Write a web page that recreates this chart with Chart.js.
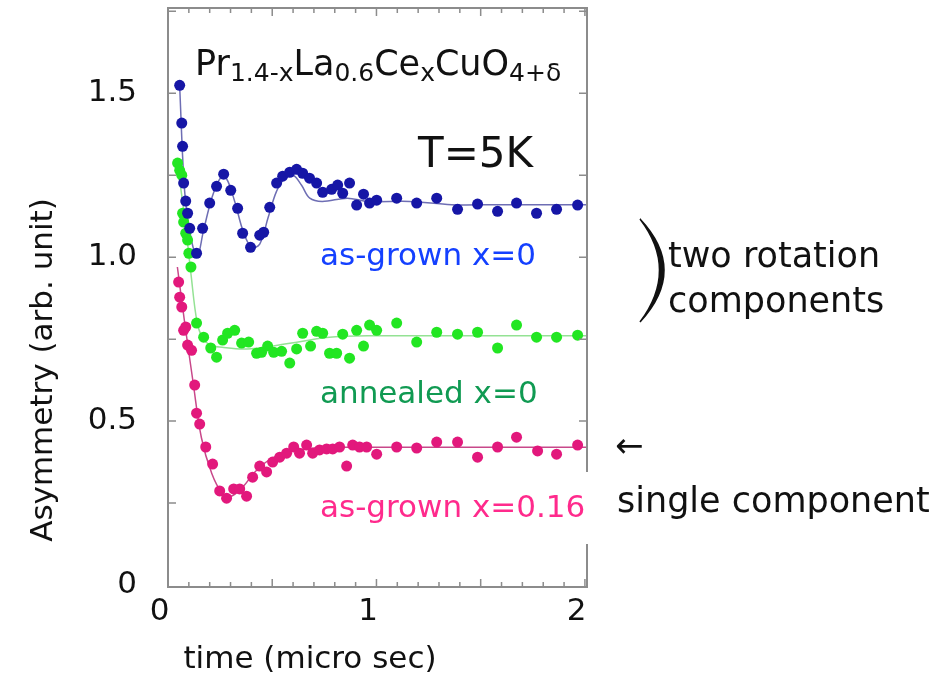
<!DOCTYPE html>
<html>
<head>
<meta charset="utf-8">
<script src="https://cdn.jsdelivr.net/npm/chart.js@4"></script>
<style>
  html, body { margin: 0; padding: 0; background: #fff; }
  #wrap { width: 952px; height: 678px; }
</style>
</head>
<body>
<div id="wrap"><canvas id="chart" width="952" height="678"></canvas></div>
<script>
// muSR asymmetry spectra

const blueTime = [0.096, 0.106, 0.11, 0.115, 0.125, 0.134, 0.144, 0.177, 0.206, 0.240, 0.273, 0.307, 0.341, 0.374, 0.398, 0.436, 0.480, 0.499, 0.528, 0.561, 0.590, 0.624, 0.657, 0.686, 0.719, 0.753, 0.782, 0.825, 0.854, 0.878, 0.911, 0.945, 0.978, 1.007, 1.041, 1.137, 1.233, 1.329, 1.429, 1.525, 1.621, 1.712, 1.808, 1.904, 2.005];
const blueAsym = [1.524, 1.409, 1.338, 1.226, 1.171, 1.134, 1.088, 1.012, 1.088, 1.165, 1.216, 1.253, 1.204, 1.149, 1.073, 1.030, 1.067, 1.076, 1.152, 1.226, 1.247, 1.259, 1.268, 1.256, 1.241, 1.226, 1.198, 1.207, 1.220, 1.195, 1.226, 1.159, 1.192, 1.165, 1.174, 1.180, 1.165, 1.180, 1.146, 1.162, 1.140, 1.165, 1.134, 1.146, 1.159];

const greenTime = [0.086, 0.096, 0.106, 0.11, 0.115, 0.125, 0.134, 0.14, 0.15, 0.177, 0.211, 0.245, 0.273, 0.302, 0.326, 0.360, 0.393, 0.427, 0.465, 0.489, 0.518, 0.547, 0.585, 0.624, 0.657, 0.686, 0.724, 0.753, 0.782, 0.815, 0.849, 0.878, 0.911, 0.945, 0.978, 1.007, 1.041, 1.137, 1.233, 1.329, 1.429, 1.525, 1.621, 1.712, 1.808, 1.904, 2.005];
const greenAsym = [1.287, 1.265, 1.250, 1.134, 1.107, 1.073, 1.052, 1.012, 0.970, 0.799, 0.756, 0.723, 0.695, 0.747, 0.768, 0.777, 0.738, 0.741, 0.707, 0.710, 0.729, 0.710, 0.713, 0.677, 0.720, 0.768, 0.729, 0.774, 0.768, 0.707, 0.707, 0.765, 0.692, 0.777, 0.729, 0.793, 0.777, 0.799, 0.741, 0.771, 0.765, 0.771, 0.723, 0.793, 0.756, 0.756, 0.762];

const pinkTime = [0.091, 0.096, 0.106, 0.115, 0.125, 0.134, 0.153, 0.168, 0.177, 0.192, 0.221, 0.254, 0.288, 0.321, 0.355, 0.384, 0.417, 0.446, 0.480, 0.513, 0.542, 0.576, 0.609, 0.643, 0.671, 0.705, 0.734, 0.767, 0.801, 0.830, 0.863, 0.897, 0.926, 0.959, 0.993, 1.041, 1.137, 1.233, 1.329, 1.429, 1.525, 1.621, 1.712, 1.813, 1.904, 2.005];
const pinkAsym = [0.924, 0.878, 0.848, 0.777, 0.787, 0.732, 0.716, 0.610, 0.524, 0.491, 0.421, 0.369, 0.287, 0.265, 0.293, 0.293, 0.271, 0.329, 0.363, 0.345, 0.375, 0.390, 0.402, 0.421, 0.402, 0.427, 0.402, 0.412, 0.415, 0.415, 0.421, 0.363, 0.427, 0.421, 0.421, 0.399, 0.421, 0.418, 0.436, 0.436, 0.390, 0.421, 0.451, 0.409, 0.399, 0.427];

// fitted curves (thin lines)
const blueFitTime = [0.096, 0.12, 0.15, 0.18, 0.21, 0.25, 0.29, 0.32, 0.36, 0.40, 0.44, 0.48, 0.52, 0.56, 0.60, 0.64, 0.68, 0.72, 0.78, 0.9, 1.0, 1.2, 1.4, 1.6, 1.8, 2.05];
const blueFitAsym = [1.52, 1.20, 1.06, 1.00, 1.08, 1.18, 1.24, 1.24, 1.17, 1.08, 1.03, 1.04, 1.12, 1.20, 1.24, 1.25, 1.22, 1.18, 1.17, 1.18, 1.17, 1.17, 1.16, 1.16, 1.16, 1.16];
const greenFitTime = [0.086, 0.12, 0.15, 0.18, 0.21, 0.25, 0.30, 0.40, 0.50, 0.60, 0.70, 0.80, 1.0, 1.5, 2.05];
const greenFitAsym = [1.28, 1.12, 0.95, 0.80, 0.75, 0.73, 0.725, 0.72, 0.725, 0.735, 0.745, 0.755, 0.76, 0.76, 0.76];
const pinkFitTime = [0.085, 0.12, 0.16, 0.20, 0.25, 0.30, 0.34, 0.40, 0.45, 0.50, 0.55, 0.60, 0.70, 0.80, 1.0, 1.5, 2.05];
const pinkFitAsym = [0.97, 0.80, 0.62, 0.45, 0.34, 0.28, 0.27, 0.30, 0.34, 0.37, 0.39, 0.405, 0.415, 0.42, 0.42, 0.42, 0.42];

const xTickValues = [0, 1, 2];
const xTickLabels = ['0', '1', '2'];
const yTickValues = [0, 0.5, 1.0, 1.5];
const yTickLabels = ['0', '0.5', '1.0', '1.5'];

const FONT = "'DejaVu Sans', Verdana, sans-serif";

const toPoints = (xs, ys) => xs.map((x, i) => ({ x, y: ys[i] }));

function scatterSet(xs, ys, color) {
  return {
    type: 'scatter',
    data: toPoints(xs, ys),
    backgroundColor: color,
    borderColor: color,
    pointRadius: 5.5,
    borderWidth: 0,
    order: 1,
  };
}

function fitSet(xs, ys, color) {
  return {
    type: 'line',
    data: toPoints(xs, ys),
    borderColor: color,
    borderWidth: 1.5,
    pointRadius: 0,
    tension: 0.35,
    fill: false,
    order: 2,
  };
}

// frame with inward ticks, text annotations
const decorations = {
  id: 'decorations',
  afterDraw(chart) {
    const { ctx, chartArea: a, scales } = chart;
    const xs = scales.x, ys = scales.y;
    ctx.save();

    // frame
    ctx.strokeStyle = '#8c8c8c';
    ctx.lineWidth = 2;
    ctx.strokeRect(a.left, a.top, a.right - a.left, a.bottom - a.top);
    ctx.lineWidth = 1.5;
    ctx.beginPath();
    for (let k = 1; xs.min + k * 0.1 < xs.max; k++) {
      const px = xs.getPixelForValue(xs.min + k * 0.1);
      const len = k % 5 === 0 ? 8 : 5;
      ctx.moveTo(px, a.bottom); ctx.lineTo(px, a.bottom - len);
      ctx.moveTo(px, a.top); ctx.lineTo(px, a.top + len);
    }
    for (let v = 0.25; v < ys.max; v += 0.25) {
      const py = ys.getPixelForValue(v);
      ctx.moveTo(a.left, py); ctx.lineTo(a.left + 8, py);
      ctx.moveTo(a.right, py); ctx.lineTo(a.right - 8, py);
    }
    ctx.stroke();

    // white box behind the x=0.16 label
    ctx.fillStyle = '#fff';
    ctx.fillRect(310, 472, 282, 72);

    ctx.textAlign = 'left';
    ctx.textBaseline = 'alphabetic';

    // compound formula
    const parts = [
      ['Pr', false], ['1.4-x', true], ['La', false], ['0.6', true],
      ['Ce', false], ['x', true], ['CuO', false], ['4+\u03b4', true],
    ];
    let cx = 195;
    ctx.fillStyle = '#111';
    for (const [txt, sub] of parts) {
      ctx.font = (sub ? '25px ' : '35px ') + FONT;
      ctx.fillText(txt, cx, sub ? 81 : 75);
      cx += ctx.measureText(txt).width;
    }

    ctx.font = '42px ' + FONT;
    ctx.fillText('T=5K', 418, 167);

    ctx.font = '31px ' + FONT;
    ctx.fillStyle = '#1440ff';
    ctx.fillText('as-grown x=0', 320, 265);
    ctx.fillStyle = '#109a52';
    ctx.fillText('annealed x=0', 320, 403);
    ctx.fillStyle = '#ff2a8c';
    ctx.fillText('as-grown x=0.16', 320, 517);

    // right-hand notes
    ctx.fillStyle = '#111';
    ctx.font = '35px ' + FONT;
    ctx.fillText('two rotation', 668, 267);
    ctx.fillText('components', 668, 312);
    ctx.fillText('single component', 617, 512);
    ctx.font = '34px ' + FONT;
    ctx.textBaseline = 'middle';
    ctx.fillText('\u2190', 615, 448);

    // big bracket
    ctx.beginPath();
    ctx.moveTo(640, 219);
    ctx.quadraticCurveTo(688, 270, 640, 322);
    ctx.quadraticCurveTo(679, 270, 640, 219);
    ctx.fill();
    ctx.lineWidth = 1.5;
    ctx.strokeStyle = '#111';
    ctx.stroke();

    // axis titles
    ctx.font = '31px ' + FONT;
    ctx.textAlign = 'center';
    ctx.textBaseline = 'alphabetic';
    ctx.fillText('time (micro sec)', 310, 668);
    ctx.translate(44, 370);
    ctx.rotate(-Math.PI / 2);
    ctx.textBaseline = 'middle';
    ctx.fillText('Asymmetry (arb. unit)', 0, 0);

    ctx.restore();
  },
};

new Chart(document.getElementById('chart'), {
  data: {
    datasets: [
      fitSet(blueFitTime, blueFitAsym, '#6e6eb4'),
      fitSet(greenFitTime, greenFitAsym, '#94e294'),
      fitSet(pinkFitTime, pinkFitAsym, '#c8488a'),
      scatterSet(blueTime, blueAsym, '#1616a6'),
      scatterSet(greenTime, greenAsym, '#22e622'),
      scatterSet(pinkTime, pinkAsym, '#e2187c'),
    ],
  },
  options: {
    responsive: false,
    animation: false,
    devicePixelRatio: 1,
    layout: { padding: { top: 8, right: 365, left: 0, bottom: 0 } },
    plugins: { legend: { display: false }, tooltip: { enabled: false } },
    scales: {
      x: {
        type: 'linear',
        min: 0.04,
        max: 2.05,
        grid: { display: false, drawTicks: false },
        border: { display: false },
        afterBuildTicks: (s) => { s.ticks = xTickValues.map((v) => ({ value: v })); },
        afterFit: (s) => {
          s.height = 91;
          s.paddingLeft = 0; s.paddingRight = 0;
        },
        ticks: {
          padding: 6,
          color: '#111',
          font: { family: FONT, size: 31 },
          callback: (v) => xTickLabels[xTickValues.indexOf(v)],
        },
      },
      y: {
        type: 'linear',
        min: -0.006,
        max: 1.76,
        grid: { display: false, drawTicks: false },
        border: { display: false },
        afterBuildTicks: (s) => { s.ticks = yTickValues.map((v) => ({ value: v })); },
        afterFit: (s) => {
          s.width = 168;
          s.paddingTop = 0; s.paddingBottom = 0;
        },
        ticks: {
          padding: 31,
          color: '#111',
          font: { family: FONT, size: 31 },
          callback: (v) => yTickLabels[yTickValues.indexOf(v)],
        },
      },
    },
  },
  plugins: [decorations],
});
</script>
</body>
</html>
